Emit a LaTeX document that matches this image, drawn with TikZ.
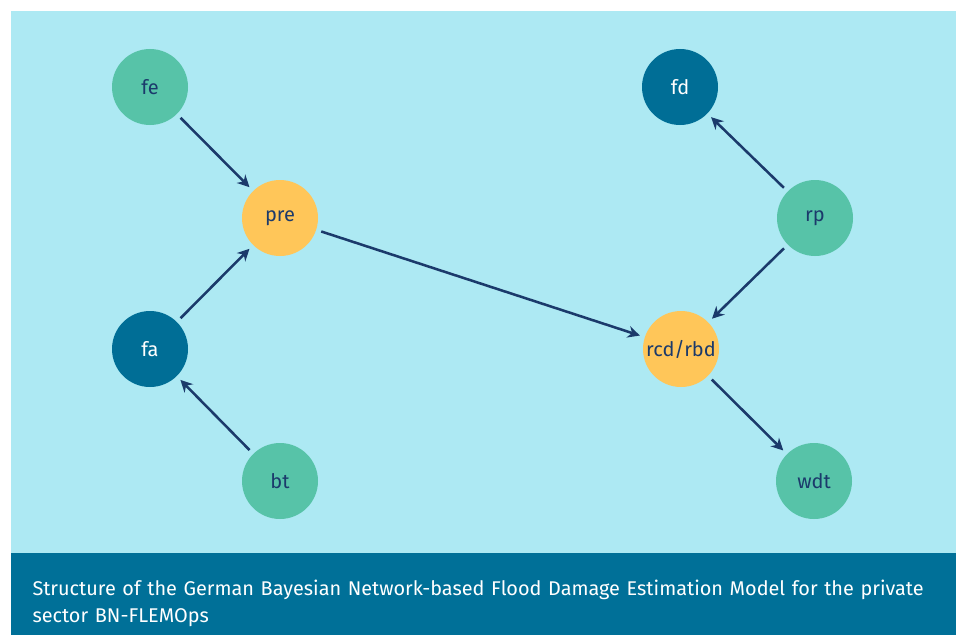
\documentclass[tikz,border=0pt]{standalone}
\usepackage{fontspec}
\setmainfont{Fira Sans}
\usetikzlibrary{arrows.meta}

\definecolor{panelblue}{RGB}{173,233,243}
\definecolor{bandblue}{RGB}{0,112,152}
\definecolor{nodegreen}{RGB}{87,195,168}
\definecolor{nodedark}{RGB}{0,110,150}
\definecolor{nodeyellow}{RGB}{255,198,89}
\definecolor{linknavy}{RGB}{27,58,107}

\tikzset{every picture/.style={line width=0.75pt}}
\tikzset{
	bnnode/.style={circle, minimum size=57pt, inner sep=0pt, outer sep=4pt, font=\fontsize{15}{17}\selectfont},
	greennode/.style={bnnode, fill=nodegreen, text=linknavy},
	darknode/.style={bnnode, fill=nodedark, text=white},
	yellownode/.style={bnnode, fill=nodeyellow, text=linknavy},
	link/.style={draw=linknavy, line width=1.9pt, -{Stealth[length=9pt,width=9pt]}}
}

\begin{document}
\begin{tikzpicture}[x=0.75pt,y=0.75pt,yscale=-1,xscale=1]
	\useasboundingbox (0,0) rectangle (956,635);

	%Shape: Rectangle [panel]
	\fill [panelblue] (11,11) rectangle (956,553);
	%Shape: Rectangle [caption band]
	\fill [bandblue] (11,553) rectangle (956,635);

	% Nodes
	\node [greennode] (fe) at (150,87) {fe};
	\node [yellownode] (pre) at (280,218) {pre};
	\node [darknode] (fa) at (150,349) {fa};
	\node [greennode] (bt) at (280,481) {bt};
	\node [darknode] (fd) at (680,87) {fd};
	\node [greennode] (rp) at (815,218) {rp};
	\node [yellownode] (rcd) at (681,349) {rcd/rbd};
	\node [greennode] (wdt) at (814,481) {wdt};

	% Links
	\draw [link] (fe) -- (pre);
	\draw [link] (fa) -- (pre);
	\draw [link] (bt) -- (fa);
	\draw [link] (pre) -- (rcd);
	\draw [link] (rp) -- (fd);
	\draw [link] (rp) -- (rcd);
	\draw [link] (rcd) -- (wdt);

	% Text Node
	\node [anchor=west, inner sep=0pt, text width=690pt, align=left, text=white, font=\fontsize{14.9}{20}\selectfont] (caption) at (32,602) {\strut Structure of the German Bayesian Network-based Flood Damage Estimation Model for the private\\ sector BN-FLEMOps};

\end{tikzpicture}
\end{document}
